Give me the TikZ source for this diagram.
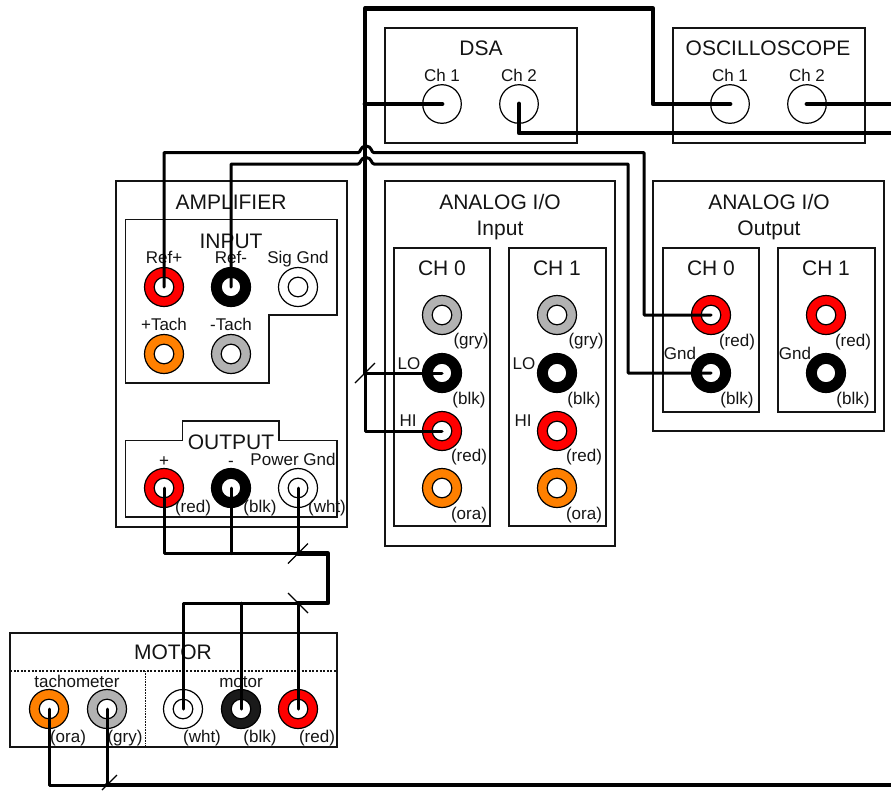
\documentclass[tikz,border=0pt]{standalone}
\usepackage{fontspec}
\setmainfont{Liberation Sans}
\usetikzlibrary{arrows.meta,positioning}
\definecolor{RigLine}{RGB}{20,20,20}
\definecolor{RigRed}{RGB}{255,0,0}
\definecolor{RigOrange}{RGB}{255,128,0}
\definecolor{RigGray}{RGB}{178,178,178}
\definecolor{RigBlack}{RGB}{0,0,0}
\definecolor{RigCoal}{RGB}{26,26,26}
\tikzset{
  rig/box/.style={draw=RigLine, line width=1.3pt, fill=none},
  rig/panel/.style={draw=RigLine, line width=1.3pt, fill=none, line join=miter},
  rig/divider/.style={draw=RigLine, line width=1.1pt, dash pattern=on 2pt off 1.6pt},
  rig/finedivider/.style={draw=RigLine, line width=0.9pt, dash pattern=on 1pt off 0.6pt},
  rig/jack/.style={
    circle,
    draw=black,
    line width=1.2pt,
    fill=#1,
    minimum size=39pt,
    inner sep=0pt,
    path picture={\draw[line width=1.2pt, fill=white] (path picture bounding box.center) circle (9.8pt);}
  },
  rig/bnc/.style={circle, draw=black, line width=1.2pt, fill=none, minimum size=38.6pt, inner sep=0pt},
  rig/title/.style={font=\fontsize{21}{24}\selectfont, text=RigLine, inner sep=0pt, text height=15pt, text depth=0pt},
  rig/label/.style={font=\fontsize{17}{20}\selectfont, text=RigLine, inner sep=0pt, text height=12.4pt, text depth=0pt},
  rig/color/.style={font=\fontsize{17}{20}\selectfont, text=RigLine, inner sep=0pt, text height=12.4pt, text depth=3.6pt},
  rig/wire/.style={draw=black, line width=3pt, line join=round, line cap=round},
  rig/trunk/.style={draw=black, line width=4.8pt, line join=round, line cap=round},
  rig/tick/.style={draw=black, line width=1.2pt}
}
\begin{document}
\begin{tikzpicture}[x=1pt,y=-1pt]
  \useasboundingbox (0,0) rectangle (891,790);
  % instrument boxes
  \draw[rig/box] (385,28) rectangle (577,143);
  \draw[rig/box] (673,28) rectangle (865,143);
  \draw[rig/box] (116,181) rectangle (347,527);
  \draw[rig/panel] (125.7,219.5) -- (337,219.5) -- (337,315) -- (269,315) -- (269,383) -- (125.7,383) -- cycle;
  \draw[rig/panel] (125.7,440.5) -- (182.7,440.5) -- (182.7,421) -- (279,421) -- (279,440.5) -- (337,440.5) -- (337,517) -- (125.7,517) -- cycle;
  \draw[rig/box] (385,181) rectangle (615,546);
  \draw[rig/box] (394,248) rectangle (490,526);
  \draw[rig/box] (509,248) rectangle (606,526);
  \draw[rig/box] (653,181) rectangle (884,431);
  \draw[rig/box] (663,248) rectangle (759,412);
  \draw[rig/box] (778,248) rectangle (875,412);
  \draw[rig/box] (10,633) rectangle (337,747);
  \draw[rig/divider] (10,671) -- (337,671);
  \draw[rig/finedivider] (145,671) -- (145,747);

  % titles
  \node[rig/title] (dsatitle) at (481,48) {DSA};
  \node[rig/title] (scopetitle) at (768,48) {OSCILLOSCOPE};
  \node[rig/title] (amptitle) at (231,202) {AMPLIFIER};
  \node[rig/title] (inputtitle) at (231,241) {INPUT};
  \node[rig/title] (outputtitle) at (231,442) {OUTPUT};
  \node[rig/title] (aintitle) at (500,202) {ANALOG I/O};
  \node[rig/title] (aintitleb) at (500,228) {Input};
  \node[rig/title] (aouttitle) at (769,202) {ANALOG I/O};
  \node[rig/title] (aouttitleb) at (769,228) {Output};
  \node[rig/title] (ain0title) at (442,268) {CH 0};
  \node[rig/title] (ain1title) at (557,268) {CH 1};
  \node[rig/title] (aout0title) at (711,268) {CH 0};
  \node[rig/title] (aout1title) at (826,268) {CH 1};
  \node[rig/title] (motortitle) at (173,652) {MOTOR};

  % connectors on the scope and analyzer
  \node[rig/bnc] (dsa1) at (442,104) {};
  \node[rig/bnc] (dsa2) at (519,104) {};
  \node[rig/bnc] (scope1) at (730,104) {};
  \node[rig/bnc] (scope2) at (807,104) {};
  \node[rig/label] (dsa1lab) at (442,75) {Ch 1};
  \node[rig/label] (dsa2lab) at (519,75) {Ch 2};
  \node[rig/label] (scope1lab) at (730,75) {Ch 1};
  \node[rig/label] (scope2lab) at (807,75) {Ch 2};

  % amplifier
  \node[rig/jack=RigRed] (refp) at (164,287) {};
  \node[rig/jack=RigBlack] (refm) at (231,287) {};
  \node[rig/jack=white] (siggnd) at (298,287) {};
  \node[rig/jack=RigOrange] (tachp) at (164,354) {};
  \node[rig/jack=RigGray] (tachm) at (231,354) {};
  \node[rig/jack=RigRed] (outp) at (164,488) {};
  \node[rig/jack=RigBlack] (outm) at (231,488) {};
  \node[rig/jack=white] (powgnd) at (298,488) {};
  \node[rig/label] (refplab) at (164,257) {Ref+};
  \node[rig/label] (refmlab) at (231,257) {Ref-};
  \node[rig/label] (siggndlab) at (298,257) {Sig Gnd};
  \node[rig/label] (tachplab) at (164,324) {+Tach};
  \node[rig/label] (tachmlab) at (231,324) {-Tach};
  \node[rig/label] (outplab) at (164,460) {+};
  \node[rig/label] (outmlab) at (231,460) {-};
  \node[rig/label] (powgndlab) at (293,459) {Power Gnd};
  \node[rig/color] (outpcol) at (193,508) {(red)};
  \node[rig/color] (outmcol) at (260,508) {(blk)};
  \node[rig/color] (powgndcol) at (327,508) {(wht)};

  % analog input
  \node[rig/jack=RigGray] (ain0g) at (442,315) {};
  \node[rig/jack=RigBlack] (ain0lo) at (442,373) {};
  \node[rig/jack=RigRed] (ain0hi) at (442,431) {};
  \node[rig/jack=RigOrange] (ain0o) at (442,488) {};
  \node[rig/jack=RigGray] (ain1g) at (557,315) {};
  \node[rig/jack=RigBlack] (ain1lo) at (557,373) {};
  \node[rig/jack=RigRed] (ain1hi) at (557,431) {};
  \node[rig/jack=RigOrange] (ain1o) at (557,488) {};
  \node[rig/label] (ain0lolab) at (409,363) {LO};
  \node[rig/label] (ain0hilab) at (408,420) {HI};
  \node[rig/label] (ain1lolab) at (524,363) {LO};
  \node[rig/label] (ain1hilab) at (523,420) {HI};
  \node[rig/color] (ain0gcol) at (471,341) {(gry)};
  \node[rig/color] (ain0locol) at (469,400) {(blk)};
  \node[rig/color] (ain0hicol) at (469,457) {(red)};
  \node[rig/color] (ain0ocol) at (469,515) {(ora)};
  \node[rig/color] (ain1gcol) at (586,341) {(gry)};
  \node[rig/color] (ain1locol) at (584,400) {(blk)};
  \node[rig/color] (ain1hicol) at (584,457) {(red)};
  \node[rig/color] (ain1ocol) at (584,515) {(ora)};

  % analog output
  \node[rig/jack=RigRed] (aout0r) at (711,315) {};
  \node[rig/jack=RigBlack] (aout0b) at (711,373) {};
  \node[rig/jack=RigRed] (aout1r) at (826,315) {};
  \node[rig/jack=RigBlack] (aout1b) at (826,373) {};
  \node[rig/label] (aout0gnd) at (680,353) {Gnd};
  \node[rig/label] (aout1gnd) at (795,353) {Gnd};
  \node[rig/color] (aout0rcol) at (737,342) {(red)};
  \node[rig/color] (aout0bcol) at (737,400) {(blk)};
  \node[rig/color] (aout1rcol) at (853,342) {(red)};
  \node[rig/color] (aout1bcol) at (853,400) {(blk)};

  % motor
  \node[rig/jack=RigOrange] (motoro) at (49,709) {};
  \node[rig/jack=RigGray] (motorg) at (107,709) {};
  \node[rig/jack=white] (motorw) at (183,709) {};
  \node[rig/jack=RigCoal] (motorb) at (241,709) {};
  \node[rig/jack=RigRed] (motorr) at (298,709) {};
  \node[rig/label] (tacholab) at (77,681) {tachometer};
  \node[rig/label] (motorlab) at (241,681) {motor};
  \node[rig/color] (motorocol) at (68,738) {(ora)};
  \node[rig/color] (motorgcol) at (125,738) {(gry)};
  \node[rig/color] (motorwcol) at (202,738) {(wht)};
  \node[rig/color] (motorbcol) at (260,738) {(blk)};
  \node[rig/color] (motorrcol) at (317,738) {(red)};

  % wire joints and free ends
  \coordinate (trunktop) at (365,8.5);
  \coordinate (trunkend) at (365,373);
  \coordinate (dsa2end) at (891,133);
  \coordinate (scope2end) at (891,104);
  \coordinate (tapout) at (298,553.5);
  \coordinate (tapmotor) at (298,603);
  \coordinate (tapbottom) at (107,785);
  \coordinate (bottomend) at (891,785);

  % cables
  \draw[rig/trunk] (trunkend) -- (trunktop) -| (653,104) -- (scope1.center);
  \draw[rig/trunk] (365,104) -- (dsa1.center);
  \draw[rig/trunk] (dsa2.center) |- (dsa2end);
  \draw[rig/trunk] (scope2.center) -- (scope2end);
  \draw[rig/trunk] (tapout) -| (328,603) -- (tapmotor);
  \draw[rig/trunk] (tapbottom) -- (bottomend);

  \draw[rig/wire] (trunkend) -- (ain0lo.center);
  \draw[rig/wire] (trunkend) |- (ain0hi.center);
  \draw[rig/wire] (refp.center) |- (358,152.7) .. controls (361,152.7) and (360,146) .. (366,146) .. controls (372,146) and (371,152.7) .. (374,152.7) -| (644,315) -- (aout0r.center);
  \draw[rig/wire] (refm.center) |- (358,164) .. controls (361,164) and (360,157.5) .. (366,157.5) .. controls (372,157.5) and (371,164) .. (374,164) -| (628,373) -- (aout0b.center);
  \draw[rig/wire] (outp.center) |- (tapout);
  \draw[rig/wire] (outm.center) -- (outm.center |- tapout);
  \draw[rig/wire] (powgnd.center) -- (tapout);
  \draw[rig/wire] (motorw.center) |- (tapmotor);
  \draw[rig/wire] (motorb.center) -- (motorb.center |- tapmotor);
  \draw[rig/wire] (motorr.center) -- (tapmotor);
  \draw[rig/wire] (motoro.center) |- (tapbottom);
  \draw[rig/wire] (motorg.center) -- (tapbottom);

  % bundle marks
  \draw[rig/tick] (trunkend) ++(-10,10) -- ++(20,-20);
  \draw[rig/tick] (tapout) ++(-10,10) -- ++(20,-20);
  \draw[rig/tick] (tapmotor) ++(-10,-10) -- ++(20,20);
  \draw[rig/tick] (tapbottom) ++(-5,5) -- ++(15,-15);
\end{tikzpicture}
\end{document}
